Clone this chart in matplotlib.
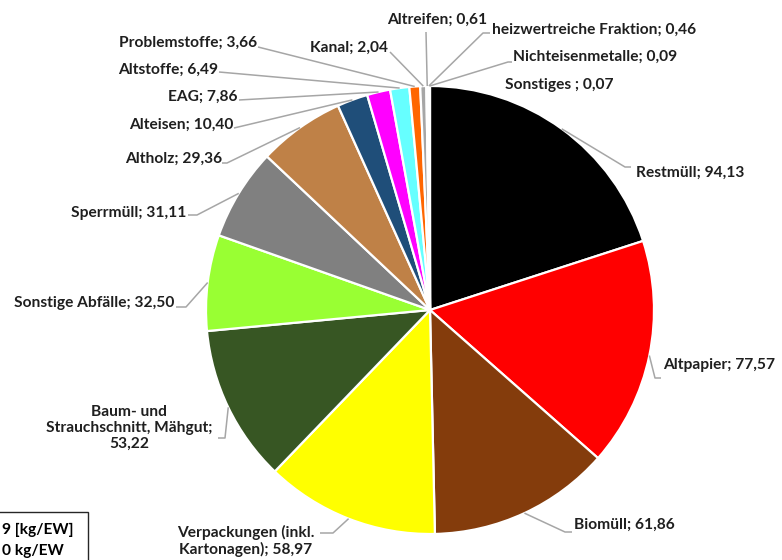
import numpy as np
import matplotlib
matplotlib.use("Agg")
import matplotlib.pyplot as plt
from matplotlib.patches import Rectangle

# Abfallmengen [kg/EW], im Uhrzeigersinn ab 12 Uhr
categories = [
    "Restmüll", "Altpapier", "Biomüll", "Verpackungen (inkl.\nKartonagen)",
    "Baum- und\nStrauchschnitt, Mähgut", "Sonstige Abfälle", "Sperrmüll",
    "Altholz", "Alteisen", "EAG", "Altstoffe", "Problemstoffe", "Kanal",
    "Altreifen", "heizwertreiche Fraktion", "Nichteisenmetalle", "Sonstiges ",
]
values = [94.13, 77.57, 61.86, 58.97, 53.22, 32.50, 31.11, 29.36, 10.40,
          7.86, 6.49, 3.66, 2.04, 0.61, 0.46, 0.09, 0.07]
colors = ["#000000", "#FF0000", "#843C0C", "#FFFF00", "#375623", "#99FF33",
          "#808080", "#BF8147", "#1F4E79", "#FF00FF", "#66FFFF", "#FF6600",
          "#A6A6A6", "#7F7F7F", "#D9D9D9", "#C9C9C9", "#E0E0E0"]
# Summenbox (links abgeschnitten, wie im Original)
box_lines = ["9 [kg/EW]", "0 kg/EW"]

# label layout in pixel coords (x, y from top): text pos, alignment, leader bends
layout = [
    ((636, 173), "left",   [(625, 167), (631, 167)]),
    ((663, 365), "left",   [(655, 378), (661, 378)]),
    ((574, 525), "left",   [(565, 532), (572, 532)]),
    ((246, 541), "center", [(333, 533), (320, 533)]),
    ((129, 428), "center", [(225, 438), (218, 438)]),
    ((174, 303), "right",  [(186, 307), (176, 307)]),
    ((186, 213), "right",  [(197, 215), (188, 215)]),
    ((222, 159), "right",  [(227, 163), (222, 163)]),
    ((233, 125), "right",  [(234, 128)]),
    ((238, 97),  "right",  [(239, 100)]),
    ((218, 70),  "right",  [(219, 72)]),
    ((257, 43),  "right",  [(258, 47)]),
    ((388, 48),  "right",  [(390, 52)]),
    ((437, 20),  "center", [(426, 32)]),
    ((492, 30),  "left",   [(483, 33), (490, 33)]),
    ((513, 57),  "left",   [(508, 62), (512, 62)]),
    ((505, 85),  "left",   []),
]

W, H = 782, 560
plt.rcParams["font.family"] = ["Lato", "DejaVu Sans"]
fig = plt.figure(figsize=(W / 100, H / 100), dpi=100)
ax = fig.add_axes([0, 0, 1, 1])

cx, cy, r = 430, H - 310, 224
wedges, _ = ax.pie(values, colors=colors, startangle=90, counterclock=False,
                   center=(cx, cy), radius=r,
                   wedgeprops=dict(edgecolor="white", linewidth=1.6))
ax.set_xlim(0, W)
ax.set_ylim(0, H)
ax.set_aspect("equal")
ax.axis("off")

fs = 11.2
for w, name, val, (pos, ha, bends) in zip(wedges, categories, values, layout):
    num = f"{val:.2f}".replace(".", ",")
    sep = ";\n" if name.startswith("Baum") else "; "
    tx, ty = pos
    ax.text(tx, H - ty, name + sep + num, ha=ha, va="center", fontsize=fs,
            fontweight="bold", color="#1F1F1F", linespacing=1.15)
    if bends:
        ang = np.deg2rad((w.theta1 + w.theta2) / 2)
        xs = [cx + r * np.cos(ang)] + [b[0] for b in bends]
        ys = [cy + r * np.sin(ang)] + [H - b[1] for b in bends]
        ax.plot(xs, ys, color="#A6A6A6", lw=1.1, solid_capstyle="butt")

ax.add_patch(Rectangle((-120, -10), 208, H - 512 + 10, fill=False,
                       edgecolor="#262626", lw=1.0, clip_on=False))
ax.text(2, H - 530, box_lines[0], ha="left", va="center",
        fontsize=fs, fontweight="bold", color="#000000")
ax.text(2, H - 551, box_lines[1], ha="left", va="center",
        fontsize=fs, fontweight="bold", color="#000000")

fig.savefig("out.png", dpi=100)
